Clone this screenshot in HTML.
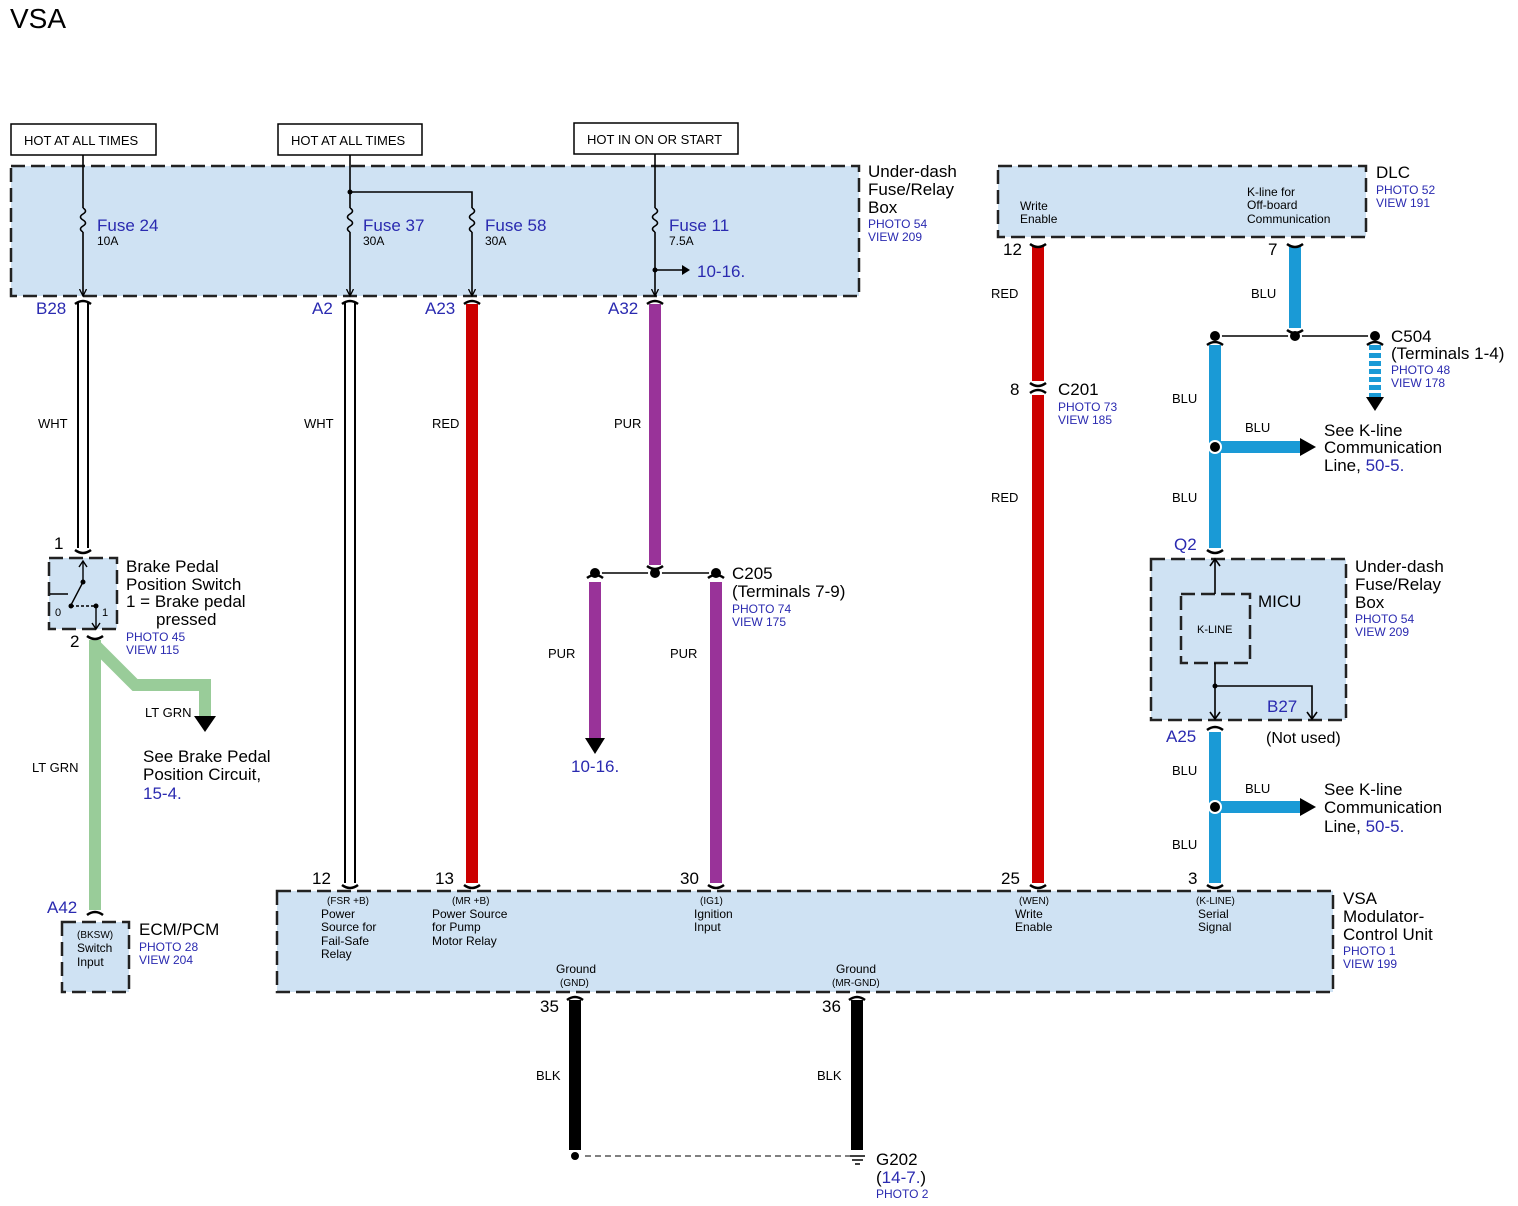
<!DOCTYPE html>
<html><head><meta charset="utf-8"><style>
body{margin:0;background:#fff}
svg{display:block}
text{font-family:"Liberation Sans",Arial,sans-serif}
.s{font-size:13px}
.m{font-size:17px}
.b{fill:#2a2ab0}
.t{font-size:12px}
</style></head><body>
<svg width="1518" height="1206" viewBox="0 0 1518 1206" xmlns="http://www.w3.org/2000/svg">
<defs>
<marker id="ar" markerWidth="10" markerHeight="10" refX="8" refY="5" orient="auto" markerUnits="userSpaceOnUse"><path d="M0,0L10,5L0,10z" fill="#000"/></marker>
<marker id="as" markerWidth="8" markerHeight="8" refX="7" refY="4" orient="auto" markerUnits="userSpaceOnUse"><path d="M0,0.5L7,4L0,7.5" fill="none" stroke="#000" stroke-width="1.3"/></marker>
</defs>
<text x="10" y="28" font-size="28">VSA</text>
<!-- header labels -->
<g fill="#fff" stroke="#000" stroke-width="1.5">
<rect x="11" y="124" width="145" height="31"/><rect x="278" y="124" width="144" height="31"/><rect x="574" y="123" width="164" height="31"/>
</g>
<text x="24" y="145" class="s">HOT AT ALL TIMES</text>
<text x="291" y="145" class="s">HOT AT ALL TIMES</text>
<text x="587" y="144" class="s">HOT IN ON OR START</text>
<!-- boxes -->
<g fill="#cfe2f3" stroke="#222" stroke-width="2.5" stroke-dasharray="14,6">
<rect x="11" y="166" width="848" height="130"/>
<rect x="998" y="166" width="368" height="71"/>
<rect x="277" y="891" width="1056" height="101"/>
<rect x="62" y="922" width="67" height="70"/>
<rect x="49" y="558" width="68" height="71"/>
<rect x="1151" y="559" width="195" height="161"/>
<rect x="1181" y="594" width="69" height="69"/>
</g>
<!-- fuse box internal -->
<g stroke="#000" stroke-width="1.6" fill="none">
<line x1="83" y1="155" x2="83" y2="208"/><line x1="83" y1="232" x2="83" y2="296" marker-end="url(#as)"/>
<path d="M83,208 q5,3 0,6 q-5,3 0,6 q5,3 0,6 q-5,3 0,6"/>
<line x1="350" y1="155" x2="350" y2="208"/><line x1="350" y1="232" x2="350" y2="296" marker-end="url(#as)"/>
<path d="M350,208 q5,3 0,6 q-5,3 0,6 q5,3 0,6 q-5,3 0,6"/>
<polyline points="350,192 472,192 472,208"/><line x1="472" y1="232" x2="472" y2="296" marker-end="url(#as)"/>
<path d="M472,208 q5,3 0,6 q-5,3 0,6 q5,3 0,6 q-5,3 0,6"/>
<line x1="655" y1="154" x2="655" y2="208"/><line x1="655" y1="232" x2="655" y2="296" marker-end="url(#as)"/>
<path d="M655,208 q5,3 0,6 q-5,3 0,6 q5,3 0,6 q-5,3 0,6"/>
<line x1="655" y1="270" x2="684" y2="270"/>
</g>
<path d="M682,265L690,270L682,275z"/>
<circle cx="350" cy="192" r="2.5"/><circle cx="655" cy="270" r="2.5"/>
<text x="97" y="231" class="m b">Fuse 24</text><text x="97" y="245" class="t">10A</text>
<text x="363" y="231" class="m b">Fuse 37</text><text x="363" y="245" class="t">30A</text>
<text x="485" y="231" class="m b">Fuse 58</text><text x="485" y="245" class="t">30A</text>
<text x="669" y="231" class="m b">Fuse 11</text><text x="669" y="245" class="t">7.5A</text>
<text x="697" y="277" class="m b">10-16.</text>
<text x="868" y="177" class="m">Under-dash</text><text x="868" y="195" class="m">Fuse/Relay</text><text x="868" y="213" class="m">Box</text>
<text x="868" y="228" class="t b">PHOTO 54</text><text x="868" y="241" class="t b">VIEW 209</text>
<!-- DLC -->
<text x="1020" y="210" class="t">Write</text><text x="1020" y="223" class="t">Enable</text>
<text x="1247" y="196" class="t">K-line for</text><text x="1247" y="209" class="t">Off-board</text><text x="1247" y="223" class="t">Communication</text>
<text x="1376" y="178" class="m">DLC</text><text x="1376" y="194" class="t b">PHOTO 52</text><text x="1376" y="207" class="t b">VIEW 191</text>
<!-- wires -->
<g fill="none">
<line x1="83" y1="302" x2="83" y2="548" stroke="#000" stroke-width="12"/><line x1="83" y1="302" x2="83" y2="548" stroke="#fff" stroke-width="8"/>
<line x1="350" y1="302" x2="350" y2="883" stroke="#000" stroke-width="12"/><line x1="350" y1="302" x2="350" y2="883" stroke="#fff" stroke-width="8"/>
<line x1="472" y1="304" x2="472" y2="883" stroke="#cc0000" stroke-width="12"/>
<line x1="655" y1="304" x2="655" y2="565" stroke="#993399" stroke-width="12"/>
<line x1="595" y1="582" x2="595" y2="740" stroke="#993399" stroke-width="12"/>
<line x1="716" y1="582" x2="716" y2="883" stroke="#993399" stroke-width="12"/>
<line x1="1038" y1="246" x2="1038" y2="381" stroke="#cc0000" stroke-width="12"/>
<line x1="1038" y1="395" x2="1038" y2="883" stroke="#cc0000" stroke-width="12"/>
<line x1="1295" y1="246" x2="1295" y2="328" stroke="#1a9ad6" stroke-width="12"/>
<line x1="1375" y1="345" x2="1375" y2="398" stroke="#1a9ad6" stroke-width="12" stroke-dasharray="5,3"/>
<line x1="1215" y1="345" x2="1215" y2="548" stroke="#1a9ad6" stroke-width="12"/>
<line x1="1215" y1="447" x2="1302" y2="447" stroke="#1a9ad6" stroke-width="12"/>
<line x1="1215" y1="732" x2="1215" y2="883" stroke="#1a9ad6" stroke-width="12"/>
<line x1="1215" y1="807" x2="1302" y2="807" stroke="#1a9ad6" stroke-width="12"/>
<line x1="95" y1="640" x2="95" y2="910" stroke="#99cc99" stroke-width="12"/>
<polyline points="95,645 135,685 205,685 205,718" stroke="#99cc99" stroke-width="12"/>
<line x1="575" y1="1000" x2="575" y2="1150" stroke="#000" stroke-width="12"/>
<line x1="857" y1="1000" x2="857" y2="1150" stroke="#000" stroke-width="12"/>
<line x1="575" y1="1156" x2="850" y2="1156" stroke="#000" stroke-width="1" stroke-dasharray="6,4"/>
<line x1="595" y1="573" x2="716" y2="573" stroke="#000" stroke-width="1.6"/>
<line x1="1215" y1="336" x2="1375" y2="336" stroke="#000" stroke-width="1.6"/>
</g>
<!-- arrowheads -->
<path d="M585,738L605,738L595,754z"/><path d="M194,716L216,716L205,732z"/>
<path d="M1366,397L1384,397L1375,411z"/><path d="M1300,438L1300,456L1316,447z"/><path d="M1300,798L1300,816L1316,807z"/>
<!-- dots -->
<g fill="#000" stroke="#fff" stroke-width="2">
<circle cx="595" cy="573" r="6"/><circle cx="655" cy="573" r="6"/><circle cx="716" cy="573" r="6"/>
<circle cx="1215" cy="336" r="6"/><circle cx="1295" cy="336" r="6"/><circle cx="1375" cy="336" r="6"/>
<circle cx="1215" cy="447" r="6"/><circle cx="1215" cy="807" r="6"/>
<circle cx="575" cy="1156" r="5"/>
</g>
<!-- connector caps -->
<g fill="none" stroke="#000" stroke-width="2.5">
<path d="M75,304q8,-6 16,0"/><path d="M342,304q8,-6 16,0"/><path d="M464,304q8,-6 16,0"/><path d="M647,304q8,-6 16,0"/>
<path d="M75,550q8,6 16,0"/><path d="M87,636q8,6 16,0"/><path d="M87,915q8,-6 16,0"/>
<path d="M342,885q8,6 16,0"/><path d="M464,885q8,6 16,0"/><path d="M708,885q8,6 16,0"/><path d="M1030,885q8,6 16,0"/><path d="M1207,885q8,6 16,0"/>
<path d="M1030,244q8,6 16,0"/><path d="M1287,244q8,6 16,0"/>
<path d="M1030,383q8,6 16,0"/><path d="M1030,393q8,-6 16,0"/>
<path d="M1287,330q8,6 16,0"/><path d="M1367,345q8,-6 16,0"/><path d="M1207,345q8,-6 16,0"/>
<path d="M1207,550q8,6 16,0"/><path d="M1207,730q8,-6 16,0"/>
<path d="M567,1000q8,-6 16,0"/><path d="M849,1000q8,-6 16,0"/>
<path d="M587,578q8,-6 16,0"/><path d="M708,578q8,-6 16,0"/><path d="M647,566q8,6 16,0"/>
</g>
<!-- ground symbol -->
<g stroke="#000" stroke-width="1.5"><line x1="850" y1="1156" x2="865" y2="1156"/><line x1="852" y1="1160" x2="863" y2="1160"/><line x1="855" y1="1164" x2="860" y2="1164"/></g>
<!-- brake switch internals -->
<g stroke="#000" stroke-width="1.4" fill="none">
<line x1="83" y1="562" x2="83" y2="582"/><path d="M79,567L83,561L87,567"/>
<line x1="83" y1="582" x2="71" y2="605"/><line x1="71" y1="606" x2="96" y2="606" stroke-dasharray="3,2"/>
<line x1="96" y1="606" x2="96" y2="628"/><path d="M92,623L96,629L100,623"/>
<line x1="50" y1="594" x2="68" y2="594"/>
</g>
<circle cx="83" cy="582" r="2.5"/><circle cx="71" cy="606" r="2.5"/><circle cx="96" cy="606" r="2.5"/>
<text x="55" y="616" font-size="11">0</text><text x="102" y="616" font-size="11">1</text>
<!-- MICU internals -->
<g stroke="#000" stroke-width="1.6" fill="none">
<line x1="1215" y1="594" x2="1215" y2="560"/><path d="M1210,566L1215,559L1220,566"/>
<line x1="1215" y1="663" x2="1215" y2="718"/><path d="M1210,712L1215,719L1220,712"/>
<polyline points="1215,686 1312,686 1312,718"/><path d="M1307,712L1312,719L1317,712"/>
</g>
<circle cx="1215" cy="686" r="2.5"/>
<text x="1197" y="633" font-size="11">K-LINE</text>
<text x="1258" y="607" class="m">MICU</text>
<text x="1267" y="712" class="m b">B27</text>
<text x="1266" y="743" font-size="16">(Not used)</text>
<text x="1355" y="572" class="m">Under-dash</text><text x="1355" y="590" class="m">Fuse/Relay</text><text x="1355" y="608" class="m">Box</text>
<text x="1355" y="623" class="t b">PHOTO 54</text><text x="1355" y="636" class="t b">VIEW 209</text>
<!-- pin labels -->
<g class="m b">
<text x="36" y="314">B28</text><text x="312" y="314">A2</text><text x="425" y="314">A23</text><text x="608" y="314">A32</text>
<text x="1174" y="550">Q2</text><text x="1166" y="742">A25</text><text x="47" y="913">A42</text>
</g>
<g class="m">
<text x="54" y="549">1</text><text x="70" y="647">2</text>
<text x="312" y="884">12</text><text x="435" y="884">13</text><text x="680" y="884">30</text><text x="1001" y="884">25</text><text x="1188" y="884">3</text>
<text x="1003" y="255">12</text><text x="1268" y="255">7</text><text x="1010" y="395">8</text>
<text x="540" y="1012">35</text><text x="822" y="1012">36</text>
</g>
<!-- wire color labels -->
<g class="s">
<text x="38" y="428">WHT</text><text x="304" y="428">WHT</text><text x="432" y="428">RED</text><text x="614" y="428">PUR</text>
<text x="548" y="658">PUR</text><text x="670" y="658">PUR</text>
<text x="991" y="298">RED</text><text x="991" y="502">RED</text>
<text x="1251" y="298">BLU</text><text x="1172" y="403">BLU</text><text x="1245" y="432">BLU</text><text x="1172" y="502">BLU</text>
<text x="1172" y="775">BLU</text><text x="1245" y="793">BLU</text><text x="1172" y="849">BLU</text>
<text x="145" y="717">LT GRN</text><text x="32" y="772">LT GRN</text>
<text x="536" y="1080">BLK</text><text x="817" y="1080">BLK</text>
</g>
<!-- component labels -->
<text x="126" y="572" class="m">Brake Pedal</text><text x="126" y="590" class="m">Position Switch</text>
<text x="126" y="607" class="m">1 = Brake pedal</text><text x="156" y="625" class="m">pressed</text>
<text x="126" y="641" class="t b">PHOTO 45</text><text x="126" y="654" class="t b">VIEW 115</text>
<text x="143" y="762" class="m">See Brake Pedal</text><text x="143" y="780" class="m">Position Circuit,</text><text x="143" y="799" class="m b">15-4.</text>
<text x="571" y="772" class="m b">10-16.</text>
<text x="732" y="579" class="m">C205</text><text x="732" y="597" class="m">(Terminals 7-9)</text>
<text x="732" y="613" class="t b">PHOTO 74</text><text x="732" y="626" class="t b">VIEW 175</text>
<text x="1058" y="395" class="m">C201</text><text x="1058" y="411" class="t b">PHOTO 73</text><text x="1058" y="424" class="t b">VIEW 185</text>
<text x="1391" y="342" class="m">C504</text><text x="1391" y="359" class="m">(Terminals 1-4)</text>
<text x="1391" y="374" class="t b">PHOTO 48</text><text x="1391" y="387" class="t b">VIEW 178</text>
<text x="1324" y="436" class="m">See K-line</text><text x="1324" y="453" class="m">Communication</text><text x="1324" y="471" class="m">Line, <tspan class="b">50-5.</tspan></text>
<text x="1324" y="795" class="m">See K-line</text><text x="1324" y="813" class="m">Communication</text><text x="1324" y="832" class="m">Line, <tspan class="b">50-5.</tspan></text>
<text x="139" y="935" class="m">ECM/PCM</text><text x="139" y="951" class="t b">PHOTO 28</text><text x="139" y="964" class="t b">VIEW 204</text>
<text x="77" y="938" font-size="10">(BKSW)</text><text x="77" y="952" class="t">Switch</text><text x="77" y="966" class="t">Input</text>
<g class="t">
<text x="327" y="904" font-size="10">(FSR +B)</text><text x="321" y="918">Power</text><text x="321" y="931">Source for</text><text x="321" y="945">Fail-Safe</text><text x="321" y="958">Relay</text>
<text x="452" y="904" font-size="10">(MR +B)</text><text x="432" y="918">Power Source</text><text x="432" y="931">for Pump</text><text x="432" y="945">Motor Relay</text>
<text x="700" y="904" font-size="10">(IG1)</text><text x="694" y="918">Ignition</text><text x="694" y="931">Input</text>
<text x="1019" y="904" font-size="10">(WEN)</text><text x="1015" y="918">Write</text><text x="1015" y="931">Enable</text>
<text x="1196" y="904" font-size="10">(K-LINE)</text><text x="1198" y="918">Serial</text><text x="1198" y="931">Signal</text>
<text x="556" y="973">Ground</text><text x="560" y="986" font-size="10">(GND)</text>
<text x="836" y="973">Ground</text><text x="832" y="986" font-size="10">(MR-GND)</text>
</g>
<text x="1343" y="904" class="m">VSA</text><text x="1343" y="922" class="m">Modulator-</text><text x="1343" y="940" class="m">Control Unit</text>
<text x="1343" y="955" class="t b">PHOTO 1</text><text x="1343" y="968" class="t b">VIEW 199</text>
<text x="876" y="1165" class="m">G202</text><text x="876" y="1183" class="m">(<tspan class="b">14-7.</tspan>)</text><text x="876" y="1198" class="t b">PHOTO 2</text>
</svg>
</body></html>
